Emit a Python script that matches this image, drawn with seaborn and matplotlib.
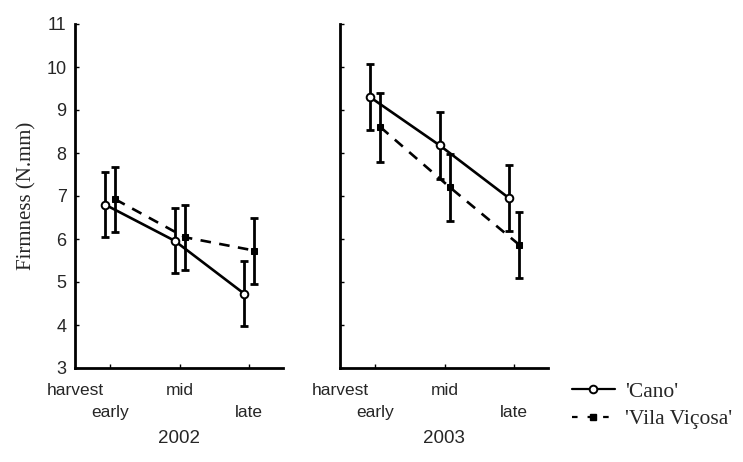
import numpy as np
import pandas as pd
import matplotlib
matplotlib.use("Agg")
import matplotlib.pyplot as plt
import seaborn as sns
from matplotlib.lines import Line2D

sns.set_theme(style="ticks")
plt.rcParams["font.family"] = ["Liberation Sans", "DejaVu Sans"]

# Firmness means and error-bar half widths per harvest stage
stages = ["early", "mid", "late"]
years = ["2002", "2003"]
cultivars = ["'Cano'", "'Vila Viçosa'"]

cano_2002 = [6.80, 5.96, 4.73]
cano_2002_err = [0.75, 0.76, 0.76]
vila_2002 = [6.92, 6.04, 5.73]
vila_2002_err = [0.76, 0.76, 0.77]

cano_2003 = [9.30, 8.18, 6.95]
cano_2003_err = [0.77, 0.78, 0.77]
vila_2003 = [8.60, 7.20, 5.86]
vila_2003_err = [0.80, 0.77, 0.77]

yticks = [3, 4, 5, 6, 7, 8, 9, 10, 11]

frames = []
for year, series in zip(years, [(cano_2002, cano_2002_err, vila_2002, vila_2002_err),
                                (cano_2003, cano_2003_err, vila_2003, vila_2003_err)]):
    c, ce, v, ve = series
    for cult, vals, errs in zip(cultivars, [c, v], [ce, ve]):
        for i, st in enumerate(stages):
            frames.append(dict(year=year, cultivar=cult, stage=st, idx=i + 1,
                               firmness=vals[i], err=errs[i]))
df = pd.DataFrame(frames)
offset = {cultivars[0]: 0.0, cultivars[1]: 0.15}
df["xpos"] = df["idx"] + df["cultivar"].map(offset)

W, H = 743, 462
fig = plt.figure(figsize=(W / 100, H / 100), dpi=100)
ax_l = fig.add_axes([75 / W, 94 / H, 208 / W, 344 / H])
ax_r = fig.add_axes([340 / W, 94 / H, 208 / W, 344 / H])

for ax, year in zip([ax_l, ax_r], years):
    d = df[df["year"] == year]
    for cult in cultivars:
        dc = d[d["cultivar"] == cult]
        ax.errorbar(dc["xpos"], dc["firmness"], yerr=dc["err"], fmt="none",
                    ecolor="black", elinewidth=2.0, capsize=3.0, capthick=2.0, zorder=2)
    sns.lineplot(data=d, x="xpos", y="firmness", style="cultivar",
                 markers={cultivars[0]: "o", cultivars[1]: "s"},
                 dashes={cultivars[0]: "", cultivars[1]: (4.0, 3.2)},
                 color="black", lw=1.9, ax=ax, legend=False, zorder=3)
    ax.set_xlim(0.568, 3.56)
    ax.set_ylim(3, 11)
    ax.set_yticks(yticks)
    ax.set_xticks([1.075, 2.075, 3.075])
    ax.set_xticklabels([])
    ax.tick_params(axis="both", direction="in", length=3, width=1, color="black")
    ax.tick_params(axis="y", labelsize=13, pad=6)
    ax.set_xlabel("")
    ax.set_ylabel("")
    for s in ["top", "right"]:
        ax.spines[s].set_visible(False)
    for s in ["left", "bottom"]:
        ax.spines[s].set_linewidth(2)
        ax.spines[s].set_color("black")
    tr = ax.get_xaxis_transform()
    ax.text(0.568, -0.064, "harvest", transform=tr, ha="center", va="center", fontsize=12.5)
    ax.text(2.075, -0.064, "mid", transform=tr, ha="center", va="center", fontsize=12.5)
    ax.text(1.075, -0.128, "early", transform=tr, ha="center", va="center", fontsize=12.5)
    ax.text(3.075, -0.128, "late", transform=tr, ha="center", va="center", fontsize=12.5)
    ax.text(0.5, -0.205, year, transform=ax.transAxes, ha="center", va="center", fontsize=13.5)

# open circles for 'Cano', filled squares for 'Vila Viçosa'
for ax in [ax_l, ax_r]:
    for line in ax.get_lines():
        if line.get_marker() == "o":
            line.set_markerfacecolor("white")
            line.set_markeredgecolor("black")
            line.set_markeredgewidth(1.4)
            line.set_markersize(5.5)
        elif line.get_marker() == "s":
            line.set_markerfacecolor("black")
            line.set_markeredgecolor("black")
            line.set_markersize(4.5)

ax_r.tick_params(axis="y", labelleft=False)
ax_l.set_ylabel("Firmness (N.mm)", family=["Liberation Serif"], fontsize=15, labelpad=7)

handles = [Line2D([], [], color="black", lw=1.6, marker="o", mfc="white", mec="black", mew=1.4, ms=5.5),
           Line2D([], [], color="black", lw=1.6, ls=(0, (2.5, 4.5)), marker="s", mfc="black", mec="black", ms=4.5)]
fig.legend(handles, cultivars, loc="upper left", bbox_to_anchor=(563 / W, 1 - 373 / H),
           frameon=False, prop={"family": "Liberation Serif", "size": 15.5},
           handlelength=2.0, handletextpad=0.5, labelspacing=0.35, borderaxespad=0)

fig.savefig("out.png", dpi=100, facecolor="white")
